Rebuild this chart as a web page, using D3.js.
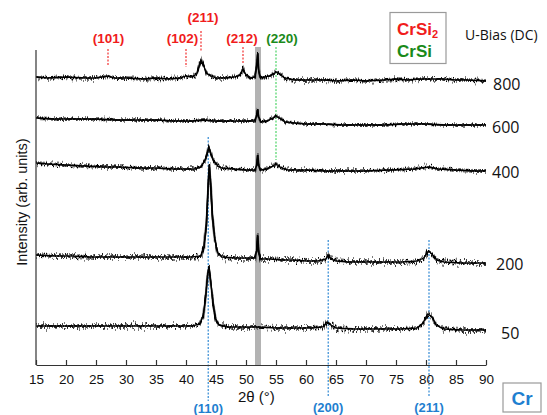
<!DOCTYPE html>
<html><head><meta charset="utf-8">
<script src="https://cdn.jsdelivr.net/npm/d3@7"></script>
<style>
html,body{margin:0;padding:0;background:#fff;}
svg{display:block;}
</style></head>
<body>
<svg id="c" width="547" height="415"></svg>
<script>
// ---- data ----
const xTicks = [15,20,25,30,35,40,45,50,55,60,65,70,75,80,85,90];
const biasLabels = ["800","600","400","200","50"];
const s800 = [[15,288],[17,287],[20,288],[23,287],[25,287],[27,289],[28,287],[30,287],[33,286],[35,287],[37,286],[39,287],[40,289],[41,288],[41.8,291],[42.2,299],[42.5,305],[42.9,300],[43.4,292],[44.2,289],[45,287],[46.5,287],[48,288],[49,290],[49.5,296],[50,290],[50.8,287],[51.5,288],[51.8,300],[51.95,312],[52.1,295],[52.4,287],[53,288],[54,289],[54.7,292],[55.2,293],[55.8,290],[56.5,287],[58,285],[60,285],[63,285],[65,284],[68,285],[70,284],[73,285],[75,286],[77,285],[79,286],[81,286],[83,286],[85,285],[87,285],[90,284]];
const s600 = [[15,247],[18,246],[22,246],[25,246],[28,245],[32,245],[35,245],[38,244],[41,244],[43,245],[44.5,244],[47,244],[50,244],[51.5,244],[51.8,250],[51.95,256],[52.1,248],[52.5,243],[53.5,244],[54.5,247],[55,249],[55.6,247],[56.5,243],[58,242],[60,241],[63,241],[66,240],[70,240],[73,240],[76,241],[80,241],[83,240],[86,240],[90,240]];
const s400 = [[15,202],[17,201],[20,200],[23,199],[26,198],[29,198],[32,197],[35,197],[38,196],[40,196],[41.5,196],[42.5,198],[43.2,205],[43.6,213],[43.8,218],[44.1,212],[44.6,204],[45.3,199],[46,197],[48,196],[50,195],[51.5,195],[51.8,200],[51.95,210],[52.1,200],[52.4,195],[53.5,196],[54.5,199],[55,201],[55.7,198],[57,195],[60,195],[63,194],[66,194],[70,194],[74,195],[78,196],[80.5,198],[82,196],[85,195],[88,194],[90,194]];
const s200 = [[15,110],[18,109],[21,109],[24,108],[27,108],[30,108],[33,108],[36,108],[39,108],[41,108],[42.5,109],[43,118],[43.4,140],[43.7,180],[43.9,200],[44.1,180],[44.4,150],[44.8,125],[45.3,112],[46,108],[48,107],[50,107],[51.5,107],[51.8,115],[51.95,130],[52.1,114],[52.4,106],[54,106],[56,105],[58,105],[60,104],[62,104],[63.3,106],[63.7,110],[64.1,106],[65,104],[67,103],[70,103],[73,103],[76,103],[78.5,104],[79.6,107],[80.4,114],[81,111],[81.8,105],[83,103],[86,102],[90,102]];
const s50 = [[15,39],[18,39],[21,39],[24,39],[27,39],[30,39],[33,39],[36,39],[39,39],[41,39],[42.3,41],[42.9,50],[43.3,70],[43.6,90],[43.8,98],[44.1,85],[44.5,62],[44.9,46],[45.5,40],[47,38],[50,38],[52,38],[55,37],[58,37],[61,37],[62.8,38],[63.5,43],[64.2,40],[65,37],[68,36],[72,36],[76,36],[78.5,37],[79.5,42],[80.3,51],[81,48],[81.7,40],[83,36],[86,35],[90,35]];
const seriesList = [s800, s600, s400, s200, s50];
const crsi2Peaks = [{pos:27.0,label:"(101)"},{pos:40.0,label:"(102)"},{pos:42.5,label:"(211)"},{pos:49.5,label:"(212)"}];
const crsiPeaks = [{pos:55.0,label:"(220)"}];
const crPeaks = [{pos:43.7,label:"(110)"},{pos:63.7,label:"(200)"},{pos:80.5,label:"(211)"}];
const siBand = [51.5,52.5];

// ---- layout ----
const svg = d3.select("#c");
const x = d3.scaleLinear().domain([15,90]).range([36,486]);
const y = d3.scaleLinear().domain([0,315]).range([365,50]);
const RED="#f01c1c", GREEN="#1a8a1a", BLUE="#1f7fd0";

// line texture (rendering style only)
const noiseScale = [12, 8, 11, 16, 16];
const defs = svg.append("defs");
function noiseFilter(id, seed, scale){
  const f = defs.append("filter").attr("id",id).attr("x","-5%").attr("y","-50%").attr("width","110%").attr("height","200%");
  f.append("feTurbulence").attr("type","fractalNoise").attr("baseFrequency","1.1 0.04").attr("numOctaves",2).attr("seed",seed).attr("result","t");
  f.append("feColorMatrix").attr("in","t").attr("type","matrix")
   .attr("values","0 0 0 0 0.5  0 1 0 0 0  0 0 1 0 0  0 0 0 0 1").attr("result","t2");
  f.append("feDisplacementMap").attr("in","SourceGraphic").attr("in2","t2").attr("scale",scale).attr("xChannelSelector","R").attr("yChannelSelector","G");
}
noiseScale.forEach((sc,i)=>{ noiseFilter("nA"+i,3+i*7,sc); noiseFilter("nB"+i,5+i*13,sc*0.7); });

// gray band
svg.append("rect").attr("x",x(siBand[0])).attr("width",x(siBand[1])-x(siBand[0]))
  .attr("y",47).attr("height",365-47).attr("fill","#b3b3b3");

// reference lines
function vline(pos,y1,y2,color,dash){
  svg.append("line").attr("x1",x(pos)).attr("x2",x(pos)).attr("y1",y1).attr("y2",y2)
    .attr("stroke",color).attr("stroke-width",1.1).attr("stroke-dasharray",dash);
}
const redTops=[[49,65],[49,67],[31,52],[47,63]];
crsi2Peaks.forEach((p,i)=>vline(p.pos,redTops[i][0],redTops[i][1],RED,"2,1.5"));
vline(crsiPeaks[0].pos,47,160,"#3ccf5a","2,1.5");
const blueSpans=[[137,401],[240,396],[240,396]];
crPeaks.forEach((p,i)=>vline(p.pos,blueSpans[i][0],blueSpans[i][1],BLUE,"2,1.5"));

// series
const line = d3.line().x(d=>x(d[0])).y(d=>y(d[1])).curve(d3.curveLinear);
seriesList.forEach((s,i)=>{
  svg.append("path").attr("d",line(s)).attr("fill","none").attr("stroke","#444").attr("stroke-width",2.2).attr("filter",`url(#nA${i})`).attr("stroke-opacity",0.7);
  svg.append("path").attr("d",line(s)).attr("fill","none").attr("stroke","#000").attr("stroke-width",1.6).attr("filter",`url(#nB${i})`);
  svg.append("path").attr("d",line(s)).attr("fill","none").attr("stroke","#000").attr("stroke-width",1.3);
});

// axes
const ax = svg.append("g").attr("transform","translate(0,365)")
  .call(d3.axisBottom(x).tickValues(xTicks).tickSize(-5).tickPadding(9).tickSizeOuter(0));
ax.select(".domain").attr("stroke","#333").attr("stroke-width",1.2);
ax.selectAll(".tick line").attr("stroke","#333").attr("stroke-width",1.2);
ax.selectAll(".tick text").attr("font-family","Liberation Sans, Arial, sans-serif").attr("font-size",13.5).attr("fill","#111");
svg.append("line").attr("x1",36).attr("x2",36).attr("y1",50).attr("y2",365).attr("stroke","#333").attr("stroke-width",1.2);

svg.append("text").attr("x",238).attr("y",402).attr("font-family","Liberation Sans, Arial, sans-serif").attr("font-size",15).attr("fill","#111").text("2θ (°)");
svg.append("text").attr("transform","translate(27,202) rotate(-90)").attr("text-anchor","middle")
  .attr("font-family","Liberation Sans, Arial, sans-serif").attr("font-size",14.5).attr("fill","#111").text("Intensity (arb. units)");

// peak labels
const redLab=[[108.5,43],[182.5,43],[203,22],[242,43]];
crsi2Peaks.forEach((p,i)=>svg.append("text").attr("x",redLab[i][0]).attr("y",redLab[i][1]).attr("text-anchor","middle")
  .attr("font-family","Liberation Sans, Arial, sans-serif").attr("font-weight","bold").attr("font-size",13.5).attr("fill",RED).text(p.label));
svg.append("text").attr("x",282).attr("y",43).attr("text-anchor","middle")
  .attr("font-family","Liberation Sans, Arial, sans-serif").attr("font-weight","bold").attr("font-size",13.5).attr("fill",GREEN).text(crsiPeaks[0].label);
crPeaks.forEach((p,i)=>svg.append("text").attr("x",x(p.pos)).attr("y",i==0?413:412).attr("text-anchor","middle")
  .attr("font-family","Liberation Sans, Arial, sans-serif").attr("font-weight","bold").attr("font-size",13).attr("fill",BLUE).text(p.label));

// bias labels
const biasPos=[[493,90],[492,133],[492,178],[496,270],[501,339]];
biasLabels.forEach((b,i)=>svg.append("text").attr("x",biasPos[i][0]).attr("y",biasPos[i][1])
  .attr("font-family","Open Sans, sans-serif").attr("font-size",16).attr("fill","#111").text(b));
svg.append("text").attr("x",465).attr("y",40).attr("font-family","Open Sans, sans-serif").attr("font-size",14).attr("fill","#111").text("U-Bias (DC)");

// legend box
svg.append("rect").attr("x",390).attr("y",12.5).attr("width",56).attr("height",51).attr("fill","#fff").attr("stroke","#9a9a9a").attr("stroke-width",1.2);
const t1 = svg.append("text").attr("x",397).attr("y",35).attr("font-family","Liberation Sans, Arial, sans-serif").attr("font-weight","bold").attr("font-size",17).attr("fill",RED);
t1.append("tspan").text("CrSi");
t1.append("tspan").attr("font-size",11).attr("dy",3).text("2");
svg.append("text").attr("x",397).attr("y",57).attr("font-family","Liberation Sans, Arial, sans-serif").attr("font-weight","bold").attr("font-size",17).attr("fill",GREEN).text("CrSi");

// Cr box
svg.append("rect").attr("x",503).attr("y",383).attr("width",38).attr("height",29).attr("fill","#fff").attr("stroke","#9a9a9a").attr("stroke-width",1.2);
svg.append("text").attr("x",522).attr("y",404.5).attr("text-anchor","middle").attr("font-family","Liberation Sans, Arial, sans-serif").attr("font-weight","bold").attr("font-size",19).attr("fill",BLUE).text("Cr");
</script>
</body></html>
